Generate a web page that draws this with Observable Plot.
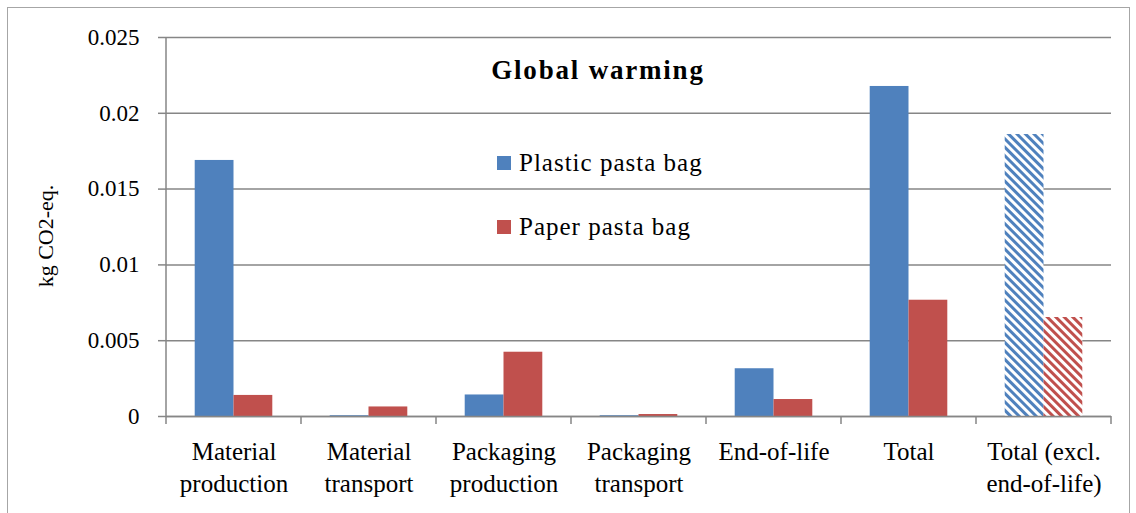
<!DOCTYPE html>
<html><head><meta charset="utf-8">
<script src="https://cdn.jsdelivr.net/npm/d3@7"></script>
<script src="https://cdn.jsdelivr.net/npm/@observablehq/plot@0.6"></script>
<style>
body{margin:0;background:#fff;}
#wrap{position:relative;width:1136px;height:513px;overflow:hidden;color:#000;}
#wrap, #wrap div, #wrap span, #wrap svg, #wrap svg text{font-family:"Liberation Serif","Times New Roman",serif !important;}
#border{position:absolute;left:7px;top:7px;width:1123px;height:530px;border:1px solid #a6a6a6;box-sizing:border-box;}
#chart{position:absolute;left:0;top:0;}
.title{position:absolute;left:598px;top:70px;transform:translate(-50%,-50%);font-weight:bold;font-size:27px;letter-spacing:1.8px;white-space:nowrap;}
.ylab{position:absolute;left:46px;top:236px;transform:translate(-50%,-50%) rotate(-90deg);font-size:22px;white-space:nowrap;}
.leg{position:absolute;left:497px;display:flex;align-items:center;font-size:25px;letter-spacing:1px;white-space:nowrap;transform:translateY(-50%);}
.sw{width:14px;height:14px;margin-right:8px;}
</style></head>
<body><div id="wrap"><div id="border"></div><div id="chart"></div></div>
<script>
const categories = ["Material production", "Material transport", "Packaging production", "Packaging transport", "End-of-life", "Total", "Total (excl. end-of-life)"];
const categoryLabels = ["Material\nproduction", "Material\ntransport", "Packaging\nproduction", "Packaging\ntransport", "End-of-life", "Total", "Total (excl.\nend-of-life)"];
const series = ["Plastic pasta bag", "Paper pasta bag"];
const plasticValues = [0.01689, 0.00005, 0.00142, 0.00005, 0.00315, 0.02177, 0.0186];
const paperValues = [0.00139, 0.00063, 0.00424, 0.00013, 0.00112, 0.00767, 0.00653];
const yTicks = [0, 0.005, 0.01, 0.015, 0.02, 0.025];
const hatchedCategory = "Total (excl. end-of-life)";
const colors = ["#4F81BD", "#C0504D"];
const titleText = "Global warming";
const yLabel = "kg CO2-eq.";

const rows = [];
categories.forEach((c, i) => {
  rows.push({category: c, series: series[0], value: plasticValues[i]});
  rows.push({category: c, series: series[1], value: paperValues[i]});
});
const solid = rows.filter(d => d.category !== hatchedCategory);
const hatchPlastic = rows.filter(d => d.category === hatchedCategory && d.series === series[0]);
const hatchPaper = rows.filter(d => d.category === hatchedCategory && d.series === series[1]);
const labelOf = new Map(categories.map((c, i) => [c, categoryLabels[i]]));
const gridColor = "#868686";

const chart = Plot.plot({
  width: 1136, height: 513,
  marginLeft: 163, marginRight: 23, marginTop: 37, marginBottom: 97,
  style: {fontFamily: "'Liberation Serif', serif", background: "transparent", color: "#000"},
  fx: {domain: categories, padding: 0, label: null},
  x: {domain: series, paddingInner: 0, paddingOuter: 0.74, axis: null, round: false},
  y: {domain: [0, 0.025], label: null},
  color: {domain: series, range: colors},
  marks: [
    Plot.gridY(yTicks, {stroke: gridColor, strokeOpacity: 1, strokeWidth: 1.5}),
    Plot.barY(solid, {fx: "category", x: "series", y: "value", fill: "series"}),
    Plot.barY(hatchPlastic, {fx: "category", x: "series", y: "value", fill: "url(#hatchBlue)"}),
    Plot.barY(hatchPaper, {fx: "category", x: "series", y: "value", fill: "url(#hatchRed)"}),
    Plot.ruleY([0], {stroke: gridColor, strokeWidth: 1.5}),
    Plot.axisY({ticks: yTicks, tickFormat: d3.format("~g"), tickSize: 8, tickPadding: 19, fontSize: 23, stroke: gridColor, strokeWidth: 1.5, fill: "#000", label: null}),
    Plot.axisFx({anchor: "bottom", tickSize: 0, tickPadding: 20, fontSize: 25, lineHeight: 1.3, letterSpacing: 1.3, tickFormat: d => labelOf.get(d), fill: "#000", label: null})
  ]
});

const svg = d3.select(chart);
const defs = svg.insert("defs", ":first-child");
[["hatchBlue", colors[0]], ["hatchRed", colors[1]]].forEach(([id, col]) => {
  const p = defs.append("pattern").attr("id", id).attr("patternUnits", "userSpaceOnUse")
    .attr("width", 6).attr("height", 6).attr("patternTransform", "rotate(-45)");
  p.append("rect").attr("width", 6).attr("height", 6).attr("fill", "#fff");
  p.append("rect").attr("width", 3).attr("height", 6).attr("fill", col);
});
// category boundary ticks and left axis line, from the library's scales
const fx = chart.scale("fx"), y = chart.scale("y");
const y0 = y.apply(0), yTop = y.apply(yTicks[yTicks.length - 1]);
const bounds = categories.map(c => fx.apply(c)).concat([fx.apply(categories[categories.length - 1]) + fx.bandwidth]);
const g = svg.append("g").attr("stroke", gridColor).attr("stroke-width", 1.5);
bounds.forEach((bx, i) => {
  g.append("line").attr("x1", bx).attr("x2", bx).attr("y1", i === 0 ? yTop : y0).attr("y2", y0 + 8);
});
document.getElementById("chart").appendChild(chart);

const wrap = document.getElementById("wrap");
const t = document.createElement("div"); t.className = "title"; t.textContent = titleText; wrap.appendChild(t);
const yl = document.createElement("div"); yl.className = "ylab"; yl.textContent = yLabel; wrap.appendChild(yl);
const legendTops = [163, 227];
series.forEach((s, i) => {
  const d = document.createElement("div"); d.className = "leg"; d.style.top = legendTops[i] + "px";
  d.innerHTML = `<div class="sw" style="background:${colors[i]}"></div><span>${s}</span>`;
  wrap.appendChild(d);
});
</script>
</body></html>
